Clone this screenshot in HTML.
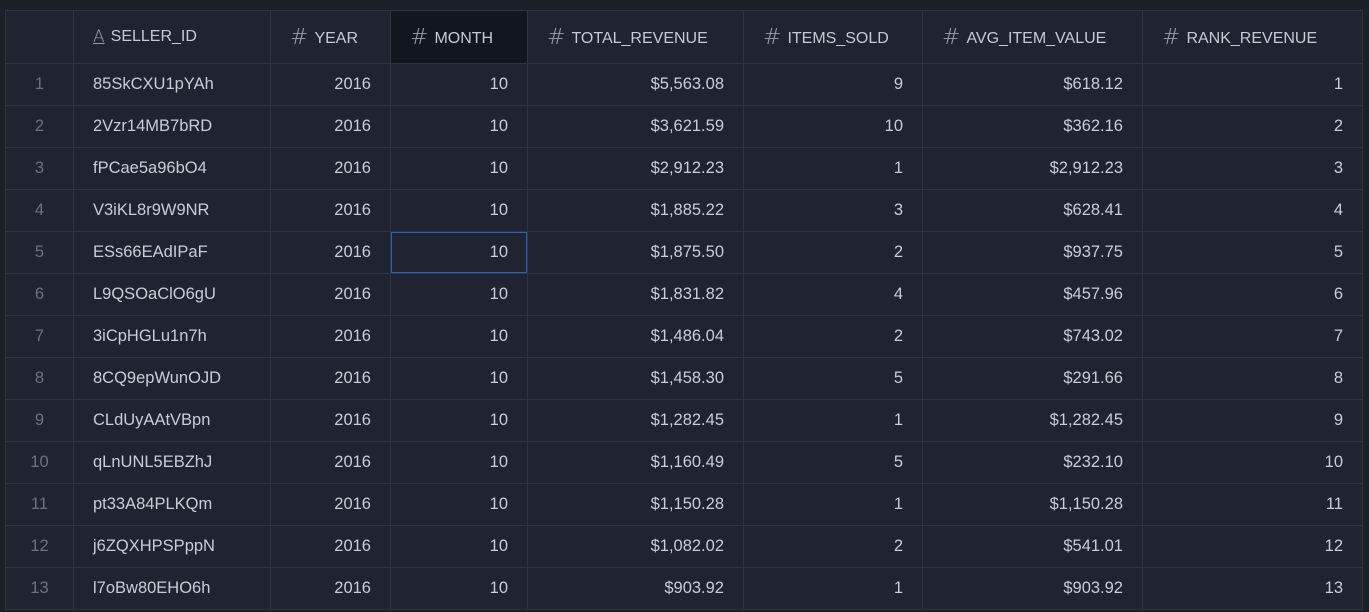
<!DOCTYPE html>
<html><head><meta charset="utf-8"><style>
body{margin:0;width:1369px;height:612px;background:#1b1f27;overflow:hidden;font-family:"Liberation Sans",sans-serif;}
table{position:absolute;left:5px;top:10px;border-collapse:collapse;table-layout:fixed;background:#1f2430;}
td,th{border:1px solid #2e3441;padding:0 19px;height:41px;font-size:16.5px;color:#c8cdd6;white-space:nowrap;overflow:hidden;}
th{height:52px;font-weight:normal;text-align:left;font-size:16px;color:#c5cad3;}
th .ic{color:#9aa0aa;font-size:22px;margin-right:6px;font-family:"DejaVu Sans",sans-serif;font-weight:200;vertical-align:-1px;}
th.sel{background:#12161d;}
td.num{text-align:right;}
td.idx{color:#6b7280;text-align:center;padding:0;}
td.active{box-shadow:inset 0 0 0 1px #2a5fc4;}
</style></head><body>
<table>
<colgroup><col style="width:68px"><col style="width:197px"><col style="width:120px"><col style="width:137px"><col style="width:216px"><col style="width:179px"><col style="width:220px"><col style="width:220px"></colgroup>
<thead><tr>
<th></th>
<th><span class="ic" style="text-decoration:underline;font-size:17px">A</span>SELLER_ID</th>
<th><span class="ic">#</span>YEAR</th>
<th class="sel"><span class="ic">#</span>MONTH</th>
<th><span class="ic">#</span>TOTAL_REVENUE</th>
<th><span class="ic">#</span>ITEMS_SOLD</th>
<th><span class="ic">#</span>AVG_ITEM_VALUE</th>
<th><span class="ic">#</span>RANK_REVENUE</th>
</tr></thead>
<tbody id="tb"></tbody></table>
<script>
const sellers=["85SkCXU1pYAh","2Vzr14MB7bRD","fPCae5a96bO4","V3iKL8r9W9NR","ESs66EAdIPaF","L9QSOaClO6gU","3iCpHGLu1n7h","8CQ9epWunOJD","CLdUyAAtVBpn","qLnUNL5EBZhJ","pt33A84PLKQm","j6ZQXHPSPppN","l7oBw80EHO6h"];
const revenue=["$5,563.08","$3,621.59","$2,912.23","$1,885.22","$1,875.50","$1,831.82","$1,486.04","$1,458.30","$1,282.45","$1,160.49","$1,150.28","$1,082.02","$903.92"];
const items=[9,10,1,3,2,4,2,5,1,5,1,2,1];
const avg=["$618.12","$362.16","$2,912.23","$628.41","$937.75","$457.96","$743.02","$291.66","$1,282.45","$232.10","$1,150.28","$541.01","$903.92"];
const tb=document.getElementById('tb');
sellers.forEach((s,i)=>{
const tr=document.createElement('tr');


const vals=[[i+1,'idx','row-index'],[s,'','seller-id-cell'],[2016,'num','year-cell'],[10,'num'+(i==4?' active':''),'month-cell'],[revenue[i],'num','total-revenue-cell'],[items[i],'num','items-sold-cell'],[avg[i],'num','avg-item-value-cell'],[i+1,'num','rank-revenue-cell']];
vals.forEach(v=>{const td=document.createElement('td');td.textContent=v[0];td.className=v[1];


tr.appendChild(td);});
tb.appendChild(tr);});
</script>
</body></html>
